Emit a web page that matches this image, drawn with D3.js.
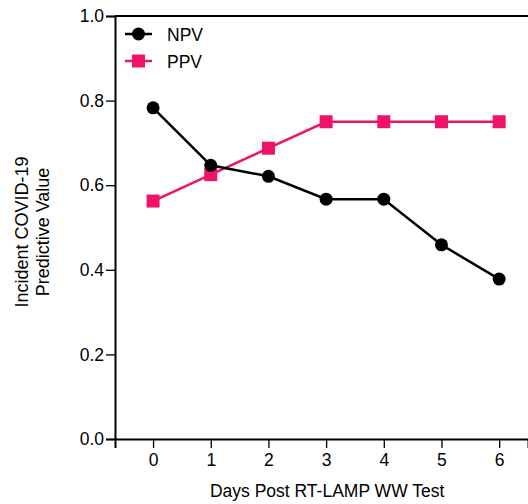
<!DOCTYPE html>
<html>
<head>
<meta charset="utf-8">
<script src="https://cdn.jsdelivr.net/npm/d3@7"></script>
<style>
  body { margin: 0; background: #fff; }
  svg { display: block; font-family: "Liberation Sans", Arial, sans-serif; }
</style>
</head>
<body>
<div id="chart"></div>
<script>
// data
const days = [0, 1, 2, 3, 4, 5, 6];
const npv = [0.783, 0.647, 0.621, 0.567, 0.567, 0.459, 0.378];
const ppv = [0.5625, 0.625, 0.6875, 0.75, 0.75, 0.75, 0.75];
const yTicks = [0.0, 0.2, 0.4, 0.6, 0.8, 1.0];

const width = 528, height = 504;
const plotLeft = 115, plotTop = 16, plotBottom = 439;

const pink = '#ef1269';

const x = d3.scaleLinear().domain([-0.66, 6.5]).range([plotLeft, 528]);
const y = d3.scaleLinear().domain([0, 1]).range([plotBottom, plotTop]);

const svg = d3.select('#chart').append('svg')
    .attr('width', width)
    .attr('height', height);

// y axis
const yAxis = svg.append('g')
    .attr('transform', `translate(${plotLeft},0)`)
    .call(d3.axisLeft(y).tickValues(yTicks).tickFormat(d3.format('.1f')).tickSize(9).tickPadding(2));
yAxis.select('.domain').attr('stroke', '#000').attr('stroke-width', 2);
yAxis.selectAll('.tick line').attr('stroke', '#000').attr('stroke-width', 1.3);
yAxis.selectAll('.tick text').attr('font-size', 17.5).attr('fill', '#000');

// x axis
const xAxis = svg.append('g')
    .attr('transform', `translate(0,${plotBottom})`)
    .call(d3.axisBottom(x).tickValues(days).tickFormat(d3.format('d')).tickSize(9).tickPadding(6));
xAxis.select('.domain').attr('stroke', '#000').attr('stroke-width', 2);
xAxis.selectAll('.tick line').attr('stroke', '#000').attr('stroke-width', 1.3);
xAxis.selectAll('.tick text').attr('font-size', 17.5).attr('fill', '#000');

// top frame line
svg.append('line')
    .attr('x1', plotLeft).attr('x2', width)
    .attr('y1', y(1)).attr('y2', y(1))
    .attr('stroke', '#000').attr('stroke-width', 2);

// axis titles
svg.append('text')
    .attr('x', x(3) + 1).attr('y', 497)
    .attr('text-anchor', 'middle')
    .attr('font-size', 17.5)
    .text('Days Post RT-LAMP WW Test');

const yTitle = svg.append('text')
    .attr('transform', 'translate(28,232) rotate(-90)')
    .attr('text-anchor', 'middle')
    .attr('font-size', 18);
yTitle.append('tspan').attr('x', 0).attr('dy', 0).text('Incident COVID-19');
yTitle.append('tspan').attr('x', 0).attr('dy', 21).text('Predictive Value');

const line = d3.line().x((d, i) => x(days[i])).y(d => y(d));

// PPV
svg.append('path')
    .datum(ppv)
    .attr('fill', 'none')
    .attr('stroke', pink)
    .attr('stroke-width', 2.5)
    .attr('d', line);
svg.selectAll('.ppv')
    .data(ppv)
    .enter().append('rect')
    .attr('class', 'ppv')
    .attr('x', (d, i) => x(days[i]) - 6.5)
    .attr('y', d => y(d) - 6.5)
    .attr('width', 13)
    .attr('height', 13)
    .attr('fill', pink);

// NPV
svg.append('path')
    .datum(npv)
    .attr('fill', 'none')
    .attr('stroke', '#000')
    .attr('stroke-width', 2.5)
    .attr('d', line);
svg.selectAll('.npv')
    .data(npv)
    .enter().append('circle')
    .attr('class', 'npv')
    .attr('cx', (d, i) => x(days[i]))
    .attr('cy', d => y(d))
    .attr('r', 6.5)
    .attr('fill', '#000');

// legend
const legend = svg.append('g').attr('transform', 'translate(125,34)');
legend.append('line').attr('x1', 0).attr('x2', 27).attr('stroke', '#000').attr('stroke-width', 2.5);
legend.append('circle').attr('cx', 13.5).attr('r', 6.5).attr('fill', '#000');
legend.append('text').attr('x', 42).attr('y', 7).attr('font-size', 17.5).text('NPV');

const legend2 = svg.append('g').attr('transform', 'translate(125,61)');
legend2.append('line').attr('x1', 0).attr('x2', 27).attr('stroke', pink).attr('stroke-width', 2.5);
legend2.append('rect').attr('x', 7).attr('y', -6.5).attr('width', 13).attr('height', 13).attr('fill', pink);
legend2.append('text').attr('x', 42).attr('y', 7).attr('font-size', 17.5).text('PPV');
</script>
</body>
</html>
